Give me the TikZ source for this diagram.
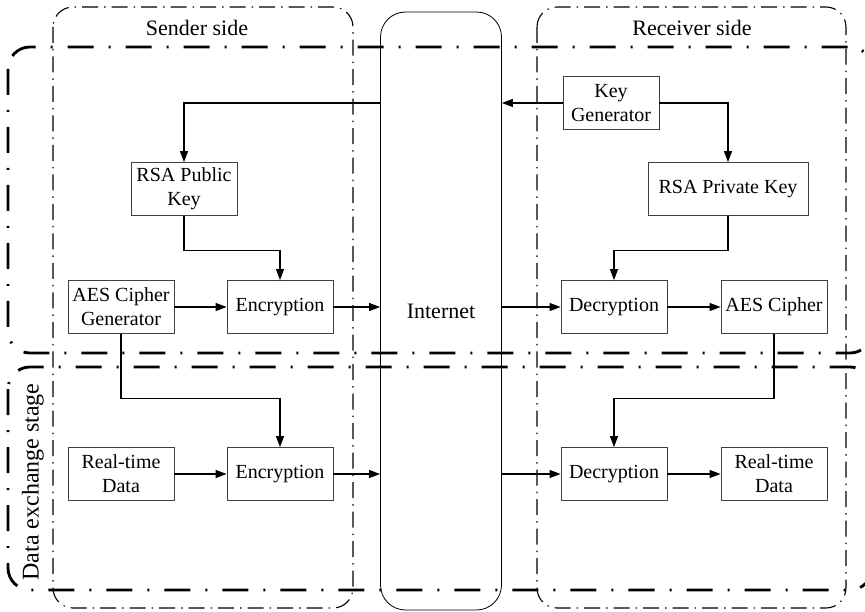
\documentclass[tikz,border=0pt]{standalone}
\usepackage{fontspec}
\setmainfont{Liberation Serif}
\usetikzlibrary{arrows.meta}
\tikzset{
  blk/.style={draw=black!75,line width=0.8pt,minimum width=106pt,minimum height=53pt,align=center,inner sep=1pt},
  link/.style={-{Triangle[length=11pt,width=8pt]},line width=1.1pt},
  sidebox/.style={line width=1.1pt,rounded corners=20pt,dash pattern=on 16pt off 6pt on 1.5pt off 6pt},
  stagebox/.style={line width=2.8pt,rounded corners=22pt,dash pattern=on 26pt off 15pt on 2pt off 15pt},
  big/.style={font=\fontsize{22}{26}\selectfont}
}
\begin{document}
\begin{tikzpicture}[x=1pt,y=-1pt,font=\fontsize{20}{24}\selectfont]
\useasboundingbox (0,0) rectangle (865,612);
% sides
\draw[sidebox] (53,7) rectangle (353,608);
\draw[sidebox] (537,7) rectangle (846,608);
\node[big] (snd) at (197,28) {Sender side};
\node[big] (rcv) at (692,28) {Receiver side};
% stages
\draw[stagebox] (8,47) rectangle (872,353);
\draw[stagebox] (8,367) rectangle (872,590);
\node[rotate=90,font=\fontsize{24}{28}\selectfont] (dxs) at (33,482) {Data exchange stage};
% internet
\node[draw,line width=0.8pt,rounded corners=25pt,minimum width=121pt,minimum height=598pt,big] (net) at (441,311) {Internet};
% blocks
\node[blk,minimum width=96pt] (keygen) at (611,103) {Key\\Generator};
\node[blk,minimum width=160pt] (rsapriv) at (728,189) {RSA Private Key};
\node[blk] (rsapub) at (184,189) {RSA Public\\Key};
\node[blk] (aesgen) at (121,307) {AES Cipher\\Generator};
\node[blk] (enc1) at (280,307) {Encryption};
\node[blk] (dec1) at (614,307) {Decryption};
\node[blk] (aes) at (774,307) {AES Cipher};
\node[blk] (rtd1) at (121,474) {Real-time\\Data};
\node[blk] (enc2) at (280,474) {Encryption};
\node[blk] (dec2) at (614,474) {Decryption};
\node[blk] (rtd2) at (774,474) {Real-time\\Data};
% key exchange
\draw[link] (keygen.west) -- (keygen.west -| net.east);
\draw[link] (keygen.west -| net.west) -| (rsapub);
\draw[link] (keygen) -| (rsapriv);
\draw[link] (rsapub.south) -- ++(0,35) -| (enc1.north);
\draw[link] (rsapriv.south) -- ++(0,35) -| (dec1.north);
\draw[link] (aesgen) -- (enc1);
\draw[link] (enc1) -- (enc1 -| net.west);
\draw[link] (net.east |- dec1) -- (dec1);
\draw[link] (dec1) -- (aes);
% data exchange
\draw[link] (aesgen.south) -- ++(0,65) -| (enc2.north);
\draw[link] (aes.south) -- ++(0,65) -| (dec2.north);
\draw[link] (rtd1) -- (enc2);
\draw[link] (enc2) -- (enc2 -| net.west);
\draw[link] (net.east |- dec2) -- (dec2);
\draw[link] (dec2) -- (rtd2);
\end{tikzpicture}
\end{document}
